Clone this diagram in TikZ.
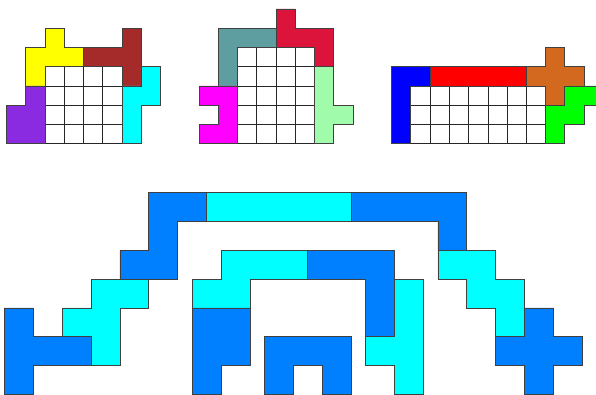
\documentclass[tikz,border=0pt]{standalone}
\definecolor{pentyellow}{RGB}{255,255,0}
\definecolor{pentbrown}{RGB}{165,42,42}
\definecolor{pentcyan}{RGB}{0,255,255}
\definecolor{pentpurple}{RGB}{138,43,226}
\definecolor{pentteal}{RGB}{95,158,160}
\definecolor{pentcrimson}{RGB}{220,20,60}
\definecolor{pentmint}{RGB}{160,252,170}
\definecolor{pentmagenta}{RGB}{255,0,255}
\definecolor{pentblue}{RGB}{0,0,255}
\definecolor{pentred}{RGB}{255,0,0}
\definecolor{pentorange}{RGB}{210,105,30}
\definecolor{pentgreen}{RGB}{0,255,0}
\definecolor{pentazure}{RGB}{0,127,255}
\begin{document}
\begin{tikzpicture}[x=0.025cm, y=-0.025cm,
    piece/.style={draw=black!75, line width=0.6pt},
    cellline/.style={draw=black!85, line width=0.5pt}]
    % Frame
    \clip (0,0) rectangle (596,394);

    % Top row: three boards with their pieces
    \begin{scope}[shift={(45,66.7)}, x=0.48125cm, y=-0.48125cm]
        % Board grids
        \foreach \i in {0,...,4} \draw[cellline] (\i,0) -- (\i,4);
        \foreach \j in {0,...,4} \draw[cellline] (0,\j) -- (4,\j);
        \foreach \i in {10,...,14} \draw[cellline] (\i,-1) -- (\i,4);
        \foreach \j in {-1,...,4} \draw[cellline] (10,\j) -- (14,\j);
        \foreach \i in {19,...,26} \draw[cellline] (\i,1) -- (\i,4);
        \foreach \j in {1,...,4} \draw[cellline] (19,\j) -- (26,\j);

        % First board
        \draw[piece, fill=pentyellow] (0,-2) -- (1,-2) -- (1,-1) -- (2,-1) -- (2,0) -- (0,0) -- (0,1) -- (-1,1) -- (-1,-1) -- (0,-1) -- cycle;
        \draw[piece, fill=pentbrown] (4,-2) -- (5,-2) -- (5,1) -- (4,1) -- (4,0) -- (2,0) -- (2,-1) -- (4,-1) -- cycle;
        \draw[piece, fill=pentcyan] (5,0) -- (6,0) -- (6,2) -- (5,2) -- (5,4) -- (4,4) -- (4,1) -- (5,1) -- cycle;
        \draw[piece, fill=pentpurple] (-1,1) -- (0,1) -- (0,4) -- (-2,4) -- (-2,2) -- (-1,2) -- cycle;

        % Second board
        \draw[piece, fill=pentteal] (9,-2) -- (12,-2) -- (12,-1) -- (10,-1) -- (10,1) -- (9,1) -- cycle;
        \draw[piece, fill=pentcrimson] (12,-3) -- (13,-3) -- (13,-2) -- (15,-2) -- (15,0) -- (14,0) -- (14,-1) -- (12,-1) -- cycle;
        \draw[piece, fill=pentmint] (14,0) -- (15,0) -- (15,2) -- (16,2) -- (16,3) -- (15,3) -- (15,4) -- (14,4) -- cycle;
        \draw[piece, fill=pentmagenta] (8,1) -- (10,1) -- (10,4) -- (8,4) -- (8,3) -- (9,3) -- (9,2) -- (8,2) -- cycle;

        % Third board
        \draw[piece, fill=pentblue] (18,0) -- (20,0) -- (20,1) -- (19,1) -- (19,4) -- (18,4) -- cycle;
        \draw[piece, fill=pentred] (20,0) rectangle (25,1);
        \draw[piece, fill=pentorange] (26,-1) -- (27,-1) -- (27,0) -- (28,0) -- (28,1) -- (27,1) -- (27,2) -- (26,2) -- (26,1) -- (25,1) -- (25,0) -- (26,0) -- cycle;
        \draw[piece, fill=pentgreen] (27,1) -- (29,1) -- (29,2) -- (28,2) -- (28,3) -- (27,3) -- (27,4) -- (26,4) -- (26,2) -- (27,2) -- cycle;
    \end{scope}

    % Bottom: the large arches
    \begin{scope}[shift={(4.3,192.3)}, x=0.7225cm, y=-0.7225cm]
        % Outer arch
        \draw[piece, fill=pentazure] (5,0) -- (7,0) -- (7,1) -- (6,1) -- (6,3) -- (4,3) -- (4,2) -- (5,2) -- cycle;
        \draw[piece, fill=pentcyan] (7,0) rectangle (12,1);
        \draw[piece, fill=pentazure] (12,0) -- (16,0) -- (16,2) -- (15,2) -- (15,1) -- (12,1) -- cycle;
        \draw[piece, fill=pentcyan] (3,3) -- (5,3) -- (5,4) -- (4,4) -- (4,6) -- (3,6) -- (3,5) -- (2,5) -- (2,4) -- (3,4) -- cycle;
        \draw[piece, fill=pentazure] (0,4) -- (1,4) -- (1,5) -- (3,5) -- (3,6) -- (1,6) -- (1,7) -- (0,7) -- cycle;
        \draw[piece, fill=pentcyan] (15,2) -- (17,2) -- (17,3) -- (18,3) -- (18,5) -- (17,5) -- (17,4) -- (16,4) -- (16,3) -- (15,3) -- cycle;
        \draw[piece, fill=pentazure] (18,4) -- (19,4) -- (19,5) -- (20,5) -- (20,6) -- (19,6) -- (19,7) -- (18,7) -- (18,6) -- (17,6) -- (17,5) -- (18,5) -- cycle;

        % Inner arch
        \draw[piece, fill=pentcyan] (7.5,2) -- (10.5,2) -- (10.5,3) -- (8.5,3) -- (8.5,4) -- (6.5,4) -- (6.5,3) -- (7.5,3) -- cycle;
        \draw[piece, fill=pentazure] (10.5,2) -- (13.5,2) -- (13.5,5) -- (12.5,5) -- (12.5,3) -- (10.5,3) -- cycle;
        \draw[piece, fill=pentcyan] (13.5,3) -- (14.5,3) -- (14.5,7) -- (13.5,7) -- (13.5,6) -- (12.5,6) -- (12.5,5) -- (13.5,5) -- cycle;
        \draw[piece, fill=pentazure] (6.5,4) -- (8.5,4) -- (8.5,6) -- (7.5,6) -- (7.5,7) -- (6.5,7) -- cycle;

        % Centre piece
        \draw[piece, fill=pentazure] (9,5) -- (12,5) -- (12,7) -- (11,7) -- (11,6) -- (10,6) -- (10,7) -- (9,7) -- cycle;
    \end{scope}
\end{tikzpicture}
\end{document}
